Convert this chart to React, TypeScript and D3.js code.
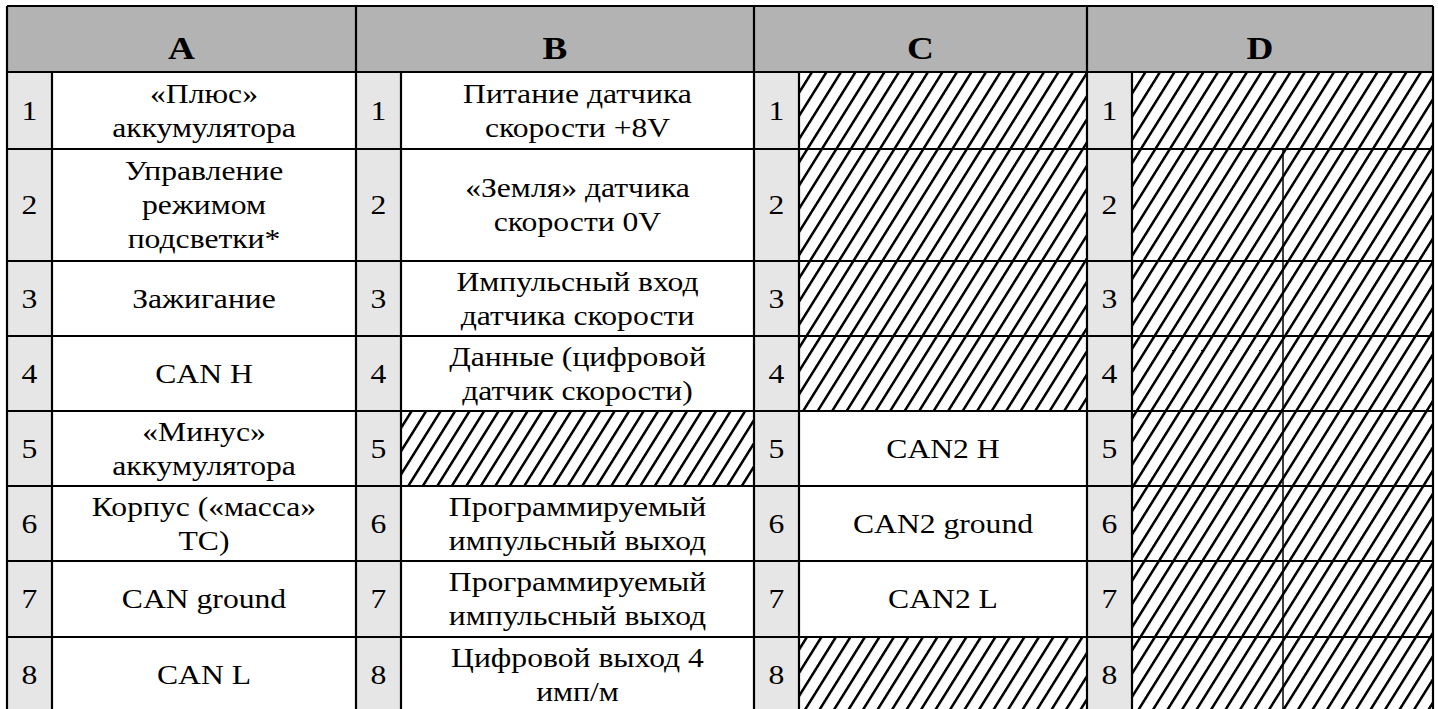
import React, { useRef, useEffect } from 'react';
import * as d3 from 'd3';

// column groups and pin numbers
const groups = ['A', 'B', 'C', 'D'];
const pins = [1, 2, 3, 4, 5, 6, 7, 8];

// cell texts, null = hatched (unused) cell
const labelsA = [
  ['«Плюс»', 'аккумулятора'],
  ['Управление', 'режимом', 'подсветки*'],
  ['Зажигание'],
  ['CAN H'],
  ['«Минус»', 'аккумулятора'],
  ['Корпус («масса»', 'ТС)'],
  ['CAN ground'],
  ['CAN L'],
];
const labelsB = [
  ['Питание датчика', 'скорости +8V'],
  ['«Земля» датчика', 'скорости 0V'],
  ['Импульсный вход', 'датчика скорости'],
  ['Данные (цифровой', 'датчик скорости)'],
  null,
  ['Программируемый', 'импульсный выход'],
  ['Программируемый', 'импульсный выход'],
  ['Цифровой выход 4', 'имп/м'],
];
const labelsC = [null, null, null, null, ['CAN2 H'], ['CAN2 ground'], ['CAN2 L'], null];
const labelsD = [null, null, null, null, null, null, null, null];

// layout
const W = 1438;
const H = 709;
const groupEdges = [7, 356, 754, 1087, 1433];
const rowEdges = [6, 72, 149, 261, 336, 411, 486, 561, 637, 713];
const numW = 45;
const lineH = 34;
const fontSize = 26.6;
const stretch = 1.19;
const font = '"Liberation Serif", "Times New Roman", serif';

function App() {
  const svgRef = useRef(null);

  useEffect(() => {
    const svg = d3.select(svgRef.current);
    svg.selectAll('*').remove();

    const y = d3.scaleLinear().domain(d3.range(rowEdges.length)).range(rowEdges);
    const x = d3.scaleLinear().domain(d3.range(groupEdges.length)).range(groupEdges);
    const columns = [labelsA, labelsB, labelsC, labelsD];

    // hatch pattern
    svg
      .append('defs')
      .append('pattern')
      .attr('id', 'hatch')
      .attr('patternUnits', 'userSpaceOnUse')
      .attr('width', 14.5)
      .attr('height', 20)
      .attr('patternTransform', 'skewX(-32)')
      .append('rect')
      .attr('x', 0)
      .attr('y', 0)
      .attr('width', 3)
      .attr('height', 20)
      .attr('fill', '#000');

    // header
    svg
      .selectAll('.head')
      .data(groups)
      .join('rect')
      .attr('class', 'head')
      .attr('x', (d, i) => x(i))
      .attr('y', y(0))
      .attr('width', (d, i) => x(i + 1) - x(i))
      .attr('height', y(1) - y(0))
      .attr('fill', '#b3b3b3');

    svg
      .selectAll('.headText')
      .data(groups)
      .join('text')
      .attr('class', 'headText')
      .attr('transform', (d, i) => `translate(${(x(i) + x(i + 1)) / 2},${y(1) - 13}) scale(1.2,1)`)
      .attr('text-anchor', 'middle')
      .attr('font-family', font)
      .attr('font-weight', 'bold')
      .attr('font-size', 31)
      .attr('fill', '#000')
      .text((d) => d);

    // body cells
    groups.forEach((g, gi) => {
      const col = columns[gi];
      const grp = svg.append('g');
      const x0 = x(gi);
      const x1 = x(gi + 1);

      grp
        .selectAll('.num')
        .data(pins)
        .join('rect')
        .attr('x', x0)
        .attr('y', (d) => y(d))
        .attr('width', numW)
        .attr('height', (d) => y(d + 1) - y(d))
        .attr('fill', '#e6e6e6');

      grp
        .selectAll('.cell')
        .data(pins)
        .join('rect')
        .attr('x', x0 + numW)
        .attr('y', (d) => y(d))
        .attr('width', x1 - x0 - numW)
        .attr('height', (d) => y(d + 1) - y(d))
        .attr('fill', (d) => (col[d - 1] ? '#fff' : 'url(#hatch)'));

      grp
        .selectAll('.numText')
        .data(pins)
        .join('text')
        .attr('transform', (d) => `translate(${x0 + numW / 2},${(y(d) + y(d + 1)) / 2 + 9}) scale(${stretch},1)`)
        .attr('text-anchor', 'middle')
        .attr('font-family', font)
        .attr('font-size', fontSize)
        .attr('fill', '#000')
        .text((d) => d);

      pins.forEach((p) => {
        const lines = col[p - 1];
        if (!lines) return;
        const cy = (y(p) + y(p + 1)) / 2;
        const cx = (x0 + numW + x1) / 2;
        grp
          .append('g')
          .selectAll('text')
          .data(lines)
          .join('text')
          .attr('transform', (d, i) => `translate(${cx},${cy + (i - (lines.length - 1) / 2) * lineH + 9}) scale(${stretch},1)`)
          .attr('text-anchor', 'middle')
          .attr('font-family', font)
          .attr('font-size', fontSize)
          .attr('fill', '#000')
          .text((d) => d);
      });
    });

    // grid lines
    const stroke = '#000';
    svg
      .selectAll('.hline')
      .data(d3.range(rowEdges.length))
      .join('line')
      .attr('x1', groupEdges[0])
      .attr('x2', groupEdges[groupEdges.length - 1])
      .attr('y1', (d) => y(d))
      .attr('y2', (d) => y(d))
      .attr('stroke', stroke)
      .attr('stroke-width', 2.2);

    svg
      .selectAll('.vline')
      .data(d3.range(groupEdges.length))
      .join('line')
      .attr('x1', (d) => x(d))
      .attr('x2', (d) => x(d))
      .attr('y1', y(0))
      .attr('y2', y(rowEdges.length - 1))
      .attr('stroke', stroke)
      .attr('stroke-width', 2.2);

    svg
      .selectAll('.nline')
      .data(d3.range(groups.length))
      .join('line')
      .attr('x1', (d) => x(d) + numW)
      .attr('x2', (d) => x(d) + numW)
      .attr('y1', y(1))
      .attr('y2', y(rowEdges.length - 1))
      .attr('stroke', stroke)
      .attr('stroke-width', 2.2);

    // split line inside column D, rows 2..8
    const dMid = (x(3) + numW + x(4)) / 2 + 0.5;
    svg
      .append('line')
      .attr('x1', dMid)
      .attr('x2', dMid)
      .attr('y1', y(2))
      .attr('y2', y(rowEdges.length - 1))
      .attr('stroke', stroke)
      .attr('stroke-width', 1.5);
  }, []);

  return (
    <svg
      ref={svgRef}
      width={W}
      height={H}
      style={{ position: 'absolute', left: 0, top: 0, background: '#fff' }}
    ></svg>
  );
}

export default App;
